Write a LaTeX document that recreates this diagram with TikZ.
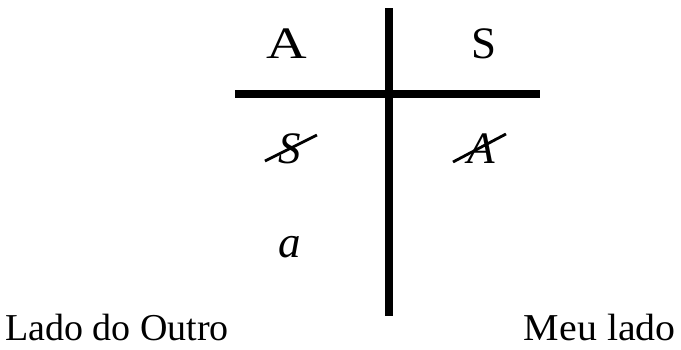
\documentclass[tikz,border=0pt]{standalone}
\usepackage{fontspec}
\setmainfont{Liberation Serif}
\usetikzlibrary{calc}
\begin{document}
\begin{tikzpicture}[x=1pt,y=-1pt,
  big/.style={inner sep=0pt,anchor=base,font=\fontsize{45}{52}\selectfont},
  lbl/.style={inner sep=0pt,anchor=base,font=\fontsize{38}{44}\selectfont},
  bar/.style={line width=7.5pt},
  strike/.style={line width=2.8pt}]
\useasboundingbox (0,0) rectangle (681,349);
\fill[white] (0,0) rectangle (681,349);
% cross
\coordinate (vt) at (389,8);
\coordinate (vb) at (389,316);
\coordinate (hl) at (235,94);
\coordinate (hr) at (540,94);
\draw[bar] (vt) -- (vb);
\draw[bar] (hl) -- (hr);
% texts
\node[big] (tA) at (287,58) {\scalebox{1.25}[1]{A}};
\node[big] (tS) at (484,58) {S};
\node[big] (sS) at (290,163) {\textit{S}};
\node[big] (sA) at (481,163) {\textit{A}};
\node[big] (ta) at (290,257) {\textit{a}};
\node[lbl,anchor=base west] (lo) at (5,340) {Lado do Outro};
\node[lbl,anchor=base east] (ml) at (676,340) {\scalebox{1.05}[1]{Meu lado}};
% strike-outs
\draw[strike] ($(sS.base)+(-25,-2)$) -- ($(sS.base)+(27,-28)$);
\draw[strike] ($(sA.base)+(-28,-1)$) -- ($(sA.base)+(25,-29)$);
\end{tikzpicture}
\end{document}
